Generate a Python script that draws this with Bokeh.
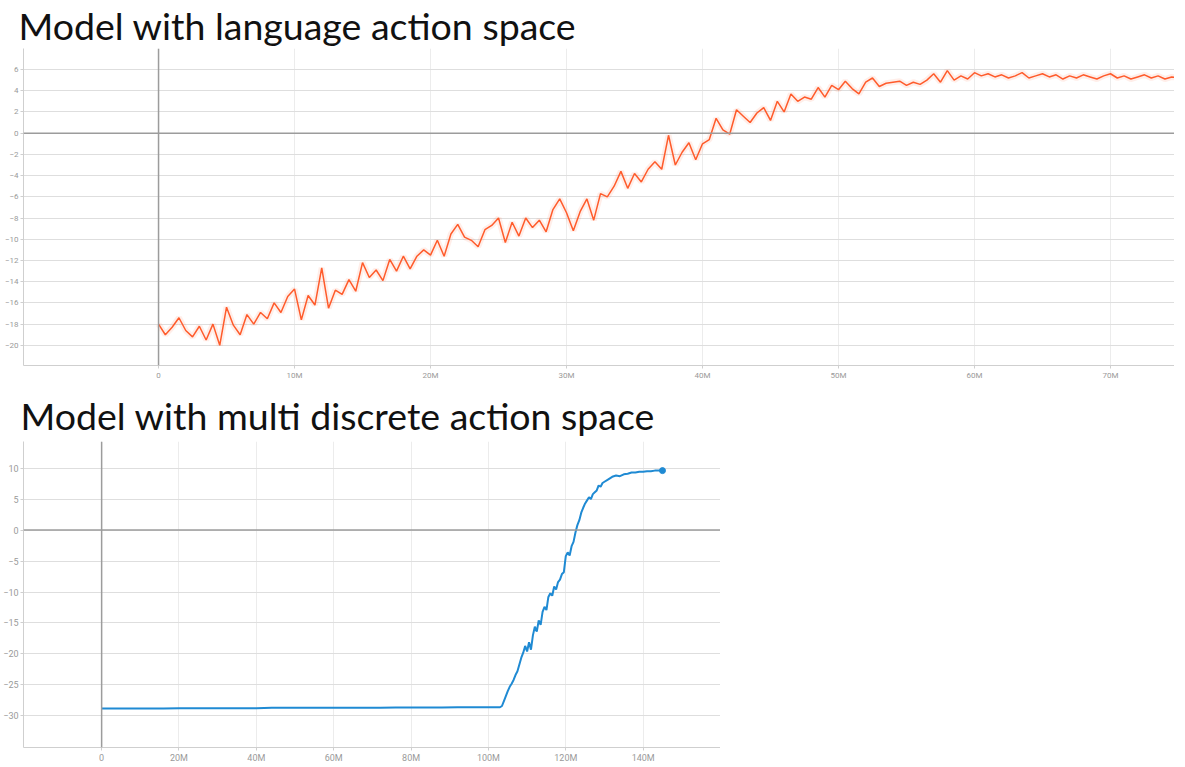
from bokeh.plotting import figure
from bokeh.layouts import column
from bokeh.models import Range1d, FixedTicker, Span
from bokeh.embed import file_html
from bokeh.resources import INLINE

# ---------------- data ----------------
lang_steps_m = [
    0.0, 0.5, 1.0, 1.5, 2.0, 2.5, 3.0, 3.5, 4.0, 4.5, 5.0, 5.5, 6.0, 6.5, 7.0, 7.5, 8.0, 8.5, 9.0, 9.5,
    10.0, 10.5, 11.0, 11.5, 12.0, 12.5, 13.0, 13.5, 14.0, 14.5, 15.0, 15.5, 16.0, 16.5, 17.0, 17.5, 18.0, 18.5, 19.0, 19.5,
    20.0, 20.5, 21.0, 21.5, 22.0, 22.5, 23.0, 23.5, 24.0, 24.5, 25.0, 25.5, 26.0, 26.5, 27.0, 27.5, 28.0, 28.5, 29.0, 29.5,
    30.0, 30.5, 31.0, 31.5, 32.0, 32.5, 33.0, 33.5, 34.0, 34.5, 35.0, 35.5, 36.0, 36.5, 37.0, 37.5, 38.0, 38.5, 39.0, 39.5,
    40.0, 40.5, 41.0, 41.5, 42.0, 42.5, 43.0, 43.5, 44.0, 44.5, 45.0, 45.5, 46.0, 46.5, 47.0, 47.5, 48.0, 48.5, 49.0, 49.5,
    50.0, 50.5, 51.0, 51.5, 52.0, 52.5, 53.0, 53.5, 54.0, 54.5, 55.0, 55.5, 56.0, 56.5, 57.0, 57.5, 58.0, 58.5, 59.0, 59.5,
    60.0, 60.5, 61.0, 61.5, 62.0, 62.5, 63.0, 63.5, 64.0, 64.5, 65.0, 65.5, 66.0, 66.5, 67.0, 67.5, 68.0, 68.5, 69.0, 69.5,
    70.0, 70.5, 71.0, 71.5, 72.0, 72.5, 73.0, 73.5, 74.0, 74.5, 75.0, 75.5,
]
lang_reward = [
    -18.0, -19.0, -18.3, -17.4, -18.6, -19.2, -18.2, -19.5, -18.0, -20.0, -16.4, -18.1, -19.0, -17.1, -18.0, -16.9, -17.5, -16.0, -16.9, -15.4,
    -14.7, -17.6, -15.3, -16.2, -12.7, -16.5, -14.8, -15.2, -13.8, -14.9, -12.2, -13.6, -12.9, -13.9, -11.9, -13.0, -11.6, -12.8, -11.6, -11.0,
    -11.5, -10.1, -11.6, -9.5, -8.6, -9.8, -10.1, -10.7, -9.1, -8.7, -8.0, -10.3, -8.4, -9.7, -8.0, -8.9, -8.2, -9.3, -7.2, -6.2,
    -7.5, -9.2, -7.4, -6.2, -8.2, -5.7, -6.0, -5.0, -3.6, -5.2, -3.8, -4.6, -3.4, -2.7, -3.4, -0.2, -3.0, -1.8, -0.9, -2.5,
    -1.0, -0.6, 1.4, 0.3, -0.1, 2.2, 1.6, 1.0, 1.9, 2.4, 1.2, 3.0, 2.0, 3.7, 3.0, 3.4, 3.2, 4.3, 3.4, 4.5,
    4.1, 4.9, 4.2, 3.7, 4.8, 5.2, 4.4, 4.7, 4.8, 4.9, 4.5, 4.8, 4.6, 5.0, 5.6, 4.8, 5.9, 5.0, 5.4, 5.1,
    5.7, 5.4, 5.6, 5.3, 5.5, 5.2, 5.4, 5.7, 5.2, 5.4, 5.6, 5.3, 5.5, 5.1, 5.4, 5.2, 5.5, 5.3, 5.1, 5.4,
    5.6, 5.2, 5.4, 5.1, 5.3, 5.5, 5.2, 5.4, 5.1, 5.3, 5.2, 5.4,
]
lang_yticks = [-20, -18, -16, -14, -12, -10, -8, -6, -4, -2, 0, 2, 4, 6]
lang_xticks = [0, 10, 20, 30, 40, 50, 60, 70]
lang_xlabels = ["0", "10M", "20M", "30M", "40M", "50M", "60M", "70M"]

disc_steps_m = [
    0, 4, 8, 12, 16, 20, 24, 28, 32, 36, 40, 44, 48, 52, 56, 60, 64, 68, 72, 76, 80, 84, 88, 92, 96, 100, 102,
    103.0, 103.5, 104.0, 104.5, 105.0, 105.5, 106.0, 106.5, 107.0, 107.5, 108.0, 108.5, 109.0, 109.5,
    110.0, 110.5, 111.0, 111.5, 112.0, 112.5, 113.0, 113.5, 114.0, 114.5, 115.0, 115.5, 116.0, 116.5,
    117.0, 117.5, 118.0, 118.5, 119.0, 119.5, 120.0, 120.5, 121.0, 121.5, 122.0, 122.5, 123.0, 123.5,
    124.0, 124.5, 125.0, 125.5, 126.0, 126.5, 127.0, 127.5, 128.0, 128.5, 129.0, 129.5, 130.0,
    131, 132, 133, 134, 135, 136, 137, 138, 139, 140, 141, 142, 143, 144, 145,
]
disc_reward = [
    -28.8, -28.8, -28.8, -28.8, -28.8, -28.75, -28.75, -28.75, -28.75, -28.75, -28.75, -28.7, -28.7, -28.7, -28.7,
    -28.7, -28.7, -28.7, -28.7, -28.65, -28.65, -28.65, -28.65, -28.6, -28.6, -28.6, -28.6,
    -28.6, -28.4, -27.6, -26.8, -26.0, -25.3, -24.8, -24.2, -23.4, -22.8, -21.7, -20.6, -19.8, -18.7,
    -19.6, -18.1, -19.3, -17.0, -15.6, -16.4, -14.6, -15.3, -13.2, -12.4, -12.9, -10.8, -10.2, -10.6,
    -9.1, -9.6, -8.4, -8.0, -7.1, -6.8, -4.2, -3.6, -4.1, -2.6, -1.9, -0.4, 0.8, 1.6,
    2.8, 3.6, 4.3, 4.8, 5.3, 5.0, 5.8, 6.1, 6.4, 7.2, 7.0, 7.6, 7.8,
    8.2, 8.6, 8.8, 8.7, 9.0, 9.1, 9.3, 9.3, 9.4, 9.4, 9.5, 9.5, 9.6, 9.6, 9.6,
]
disc_yticks = [-30, -25, -20, -15, -10, -5, 0, 5, 10]
disc_xticks = [0, 20, 40, 60, 80, 100, 120, 140]
disc_xlabels = ["0", "20M", "40M", "60M", "80M", "100M", "120M", "140M"]

ORANGE = "#ff5b2b"
BLUE = "#1f8ad3"
TICK_FONT = "Roboto"


def style(p, xticks, xlabels, yticks, label_size):
    p.xaxis.ticker = FixedTicker(ticks=xticks)
    p.xaxis.major_label_overrides = {t: l for t, l in zip(xticks, xlabels)}
    p.yaxis.ticker = FixedTicker(ticks=yticks)
    for ax in (p.xaxis[0], p.yaxis[0]):
        ax.axis_line_color = "#cfcfcf"
        ax.major_tick_line_color = "#cfcfcf"
        ax.major_tick_out = 3
        ax.major_tick_in = 0
        ax.minor_tick_line_color = None
        ax.major_label_text_font = TICK_FONT
        ax.major_label_text_font_size = label_size
        ax.major_label_text_color = "#9a9a9a"
        ax.major_label_standoff = 2
    p.xgrid.grid_line_color = "#ececec"
    p.ygrid.grid_line_color = "#dedede"
    p.outline_line_color = None
    p.background_fill_color = "white"
    p.add_layout(Span(location=0, dimension="width", line_color="#9c9c9c", line_width=1.5))
    p.add_layout(Span(location=0, dimension="height", line_color="#9c9c9c", line_width=1.5))
    p.title.text_font = "Lato"
    p.title.text_font_style = "normal"
    p.title.text_color = "#111111"
    p.title.align = "left"


p1 = figure(
    frame_width=1152, frame_height=317,
    x_range=Range1d(-9.93, 74.78), y_range=Range1d(-21.9, 7.98),
    title="Model with language action space",
    output_backend="svg", toolbar_location=None,
    min_border_left=17, min_border_right=0, min_border_top=0, min_border_bottom=0,
)
style(p1, lang_xticks, lang_xlabels, lang_yticks, "8px")
p1.title.text_font_size = "37.5px"
p1.title.offset = -5
p1.title.standoff = 1
p1.line(lang_steps_m, lang_reward, line_color=ORANGE, line_width=6, line_alpha=0.10)
p1.line(lang_steps_m, lang_reward, line_color=ORANGE, line_width=1.5)

p2 = figure(
    frame_width=697, frame_height=306,
    x_range=Range1d(-20.2, 160), y_range=Range1d(-35.1, 14.3),
    title="Model with multi discrete action space",
    output_backend="svg", toolbar_location=None,
    min_border_left=17, min_border_right=0, min_border_top=0, min_border_bottom=0,
)
style(p2, disc_xticks, disc_xlabels, disc_yticks, "9px")
p2.title.text_font_size = "37.5px"
p2.title.offset = -3
p2.title.standoff = 8
p2.line(disc_steps_m, disc_reward, line_color=BLUE, line_width=2)
p2.scatter([disc_steps_m[-1]], [disc_reward[-1]], size=6, color=BLUE)

layout = column(p1, p2, spacing=4)
open("out.html", "w").write(file_html(layout, INLINE))
